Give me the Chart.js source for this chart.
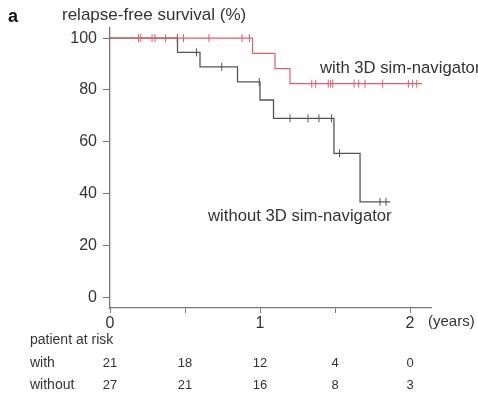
<!DOCTYPE html>
<html>
<head>
<meta charset="utf-8">
<script src="https://cdn.jsdelivr.net/npm/chart.js@4"></script>
<style>
  html, body { margin: 0; padding: 0; background: #fff; }
  #wrap { width: 478px; height: 393px; }
</style>
</head>
<body>
<div id="wrap"><canvas id="km"></canvas></div>
<script>
// Kaplan-Meier steps (time in years, survival in %)
var withTimes = [0, 0.95, 1.10, 1.20, 2.08];
var withSurv = [100, 94.1, 88.2, 82.4, 82.4];
var withCensor = [0.19, 0.205, 0.28, 0.30, 0.37, 0.49, 0.66, 0.88, 0.93,
  1.345, 1.371, 1.455, 1.471, 1.485, 1.627, 1.658, 1.70, 1.818, 1.989, 2.018, 2.045];

var withoutTimes = [0, 0.45, 0.60, 0.85, 1.00, 1.09, 1.493, 1.667, 1.867];
var withoutSurv = [100, 94.5, 88.9, 83.1, 76.1, 69.0, 55.5, 36.8, 36.8];
var withoutCensor = [0.449, 0.577, 0.745, 0.995, 1.2, 1.32, 1.393, 1.477, 1.53, 1.80, 1.84];

var yTicks = [0, 20, 40, 60, 80, 100];
var xTicks = [0, 0.5, 1, 1.5, 2];

var riskTimes = [0, 0.5, 1, 1.5, 2];
var riskWith = [21, 18, 12, 4, 0];
var riskWithout = [27, 21, 16, 8, 3];

var FONT = '"Liberation Sans", Arial, sans-serif';
var TXT = '#333';
var RED = '#e0606c';
var GREY = '#555';

function steps(times, surv) {
  return times.map(function (t, i) { return {x: t, y: surv[i]}; });
}
function survAt(times, surv, t) {
  var v = surv[0];
  for (var i = 0; i < times.length; i++) if (times[i] <= t) v = surv[i];
  return v;
}
function marks(cens, times, surv) {
  return cens.map(function (t) { return {x: t, y: survAt(times, surv, t)}; });
}

var textPlugin = {
  id: 'texts',
  afterDraw: function (chart) {
    var c = chart.ctx, xs = chart.scales.x;
    c.save();
    c.fillStyle = '#111';
    c.font = 'bold 18px ' + FONT;
    c.textBaseline = 'middle';
    c.textAlign = 'left';
    c.fillText('a', 8, 17);
    c.fillStyle = TXT;
    c.font = '17px ' + FONT;
    c.fillText('relapse-free survival (%)', 62, 15);
    c.font = '16.7px ' + FONT;
    c.fillText('with 3D sim-navigator', 320, 68);
    c.fillText('without 3D sim-navigator', 208, 216);
    c.font = '15px ' + FONT;
    c.fillText('(years)', 428, 322);
    c.font = '14px ' + FONT;
    c.fillText('patient at risk', 30, 340);
    c.fillText('with', 30, 363);
    c.fillText('without', 30, 385);
    c.font = '13px ' + FONT;
    c.textAlign = 'center';
    riskTimes.forEach(function (t, i) {
      var px = xs.getPixelForValue(t);
      c.fillText(String(riskWith[i]), px, 363);
      c.fillText(String(riskWithout[i]), px, 385);
    });
    c.restore();
  }
};

new Chart(document.getElementById('km'), {
  type: 'scatter',
  data: {
    datasets: [
      { label: 'with', data: steps(withTimes, withSurv), showLine: true, stepped: true,
        borderColor: RED, borderWidth: 1.2, pointRadius: 0 },
      { label: 'with censored', data: marks(withCensor, withTimes, withSurv),
        pointStyle: 'line', rotation: 90, pointRadius: 4, borderColor: RED, borderWidth: 1 },
      { label: 'without', data: steps(withoutTimes, withoutSurv), showLine: true, stepped: true,
        borderColor: GREY, borderWidth: 1.3, pointRadius: 0 },
      { label: 'without censored', data: marks(withoutCensor, withoutTimes, withoutSurv),
        pointStyle: 'line', rotation: 90, pointRadius: 4, borderColor: GREY, borderWidth: 1 }
    ]
  },
  options: {
    responsive: true,
    maintainAspectRatio: false,
    animation: false,
    events: [],
    layout: { padding: { top: 28, right: 47, left: 0, bottom: 0 } },
    plugins: { legend: { display: false }, tooltip: { enabled: false } },
    scales: {
      x: {
        type: 'linear', min: 0, max: 2.14,
        afterBuildTicks: function (s) { s.ticks = xTicks.map(function (v) { return {value: v}; }); },
        afterFit: function (s) { s.height = 85; },
        grid: { drawOnChartArea: false, drawTicks: true, tickLength: 5, color: '#777' },
        border: { color: '#777', width: 1.3 },
        ticks: {
          color: TXT, font: { family: FONT, size: 16 }, padding: 1, maxRotation: 0,
          callback: function (v) { return Number.isInteger(v) ? String(v) : ''; }
        }
      },
      y: {
        min: -4.2, max: 103.9,
        afterBuildTicks: function (s) { s.ticks = yTicks.map(function (v) { return {value: v}; }); },
        afterFit: function (s) { s.width = 110; },
        grid: { drawOnChartArea: false, drawTicks: true, tickLength: 7, color: '#777' },
        border: { color: '#777', width: 1.3 },
        ticks: { color: TXT, font: { family: FONT, size: 16 }, padding: 6 }
      }
    }
  },
  plugins: [textPlugin]
});
</script>
</body>
</html>
